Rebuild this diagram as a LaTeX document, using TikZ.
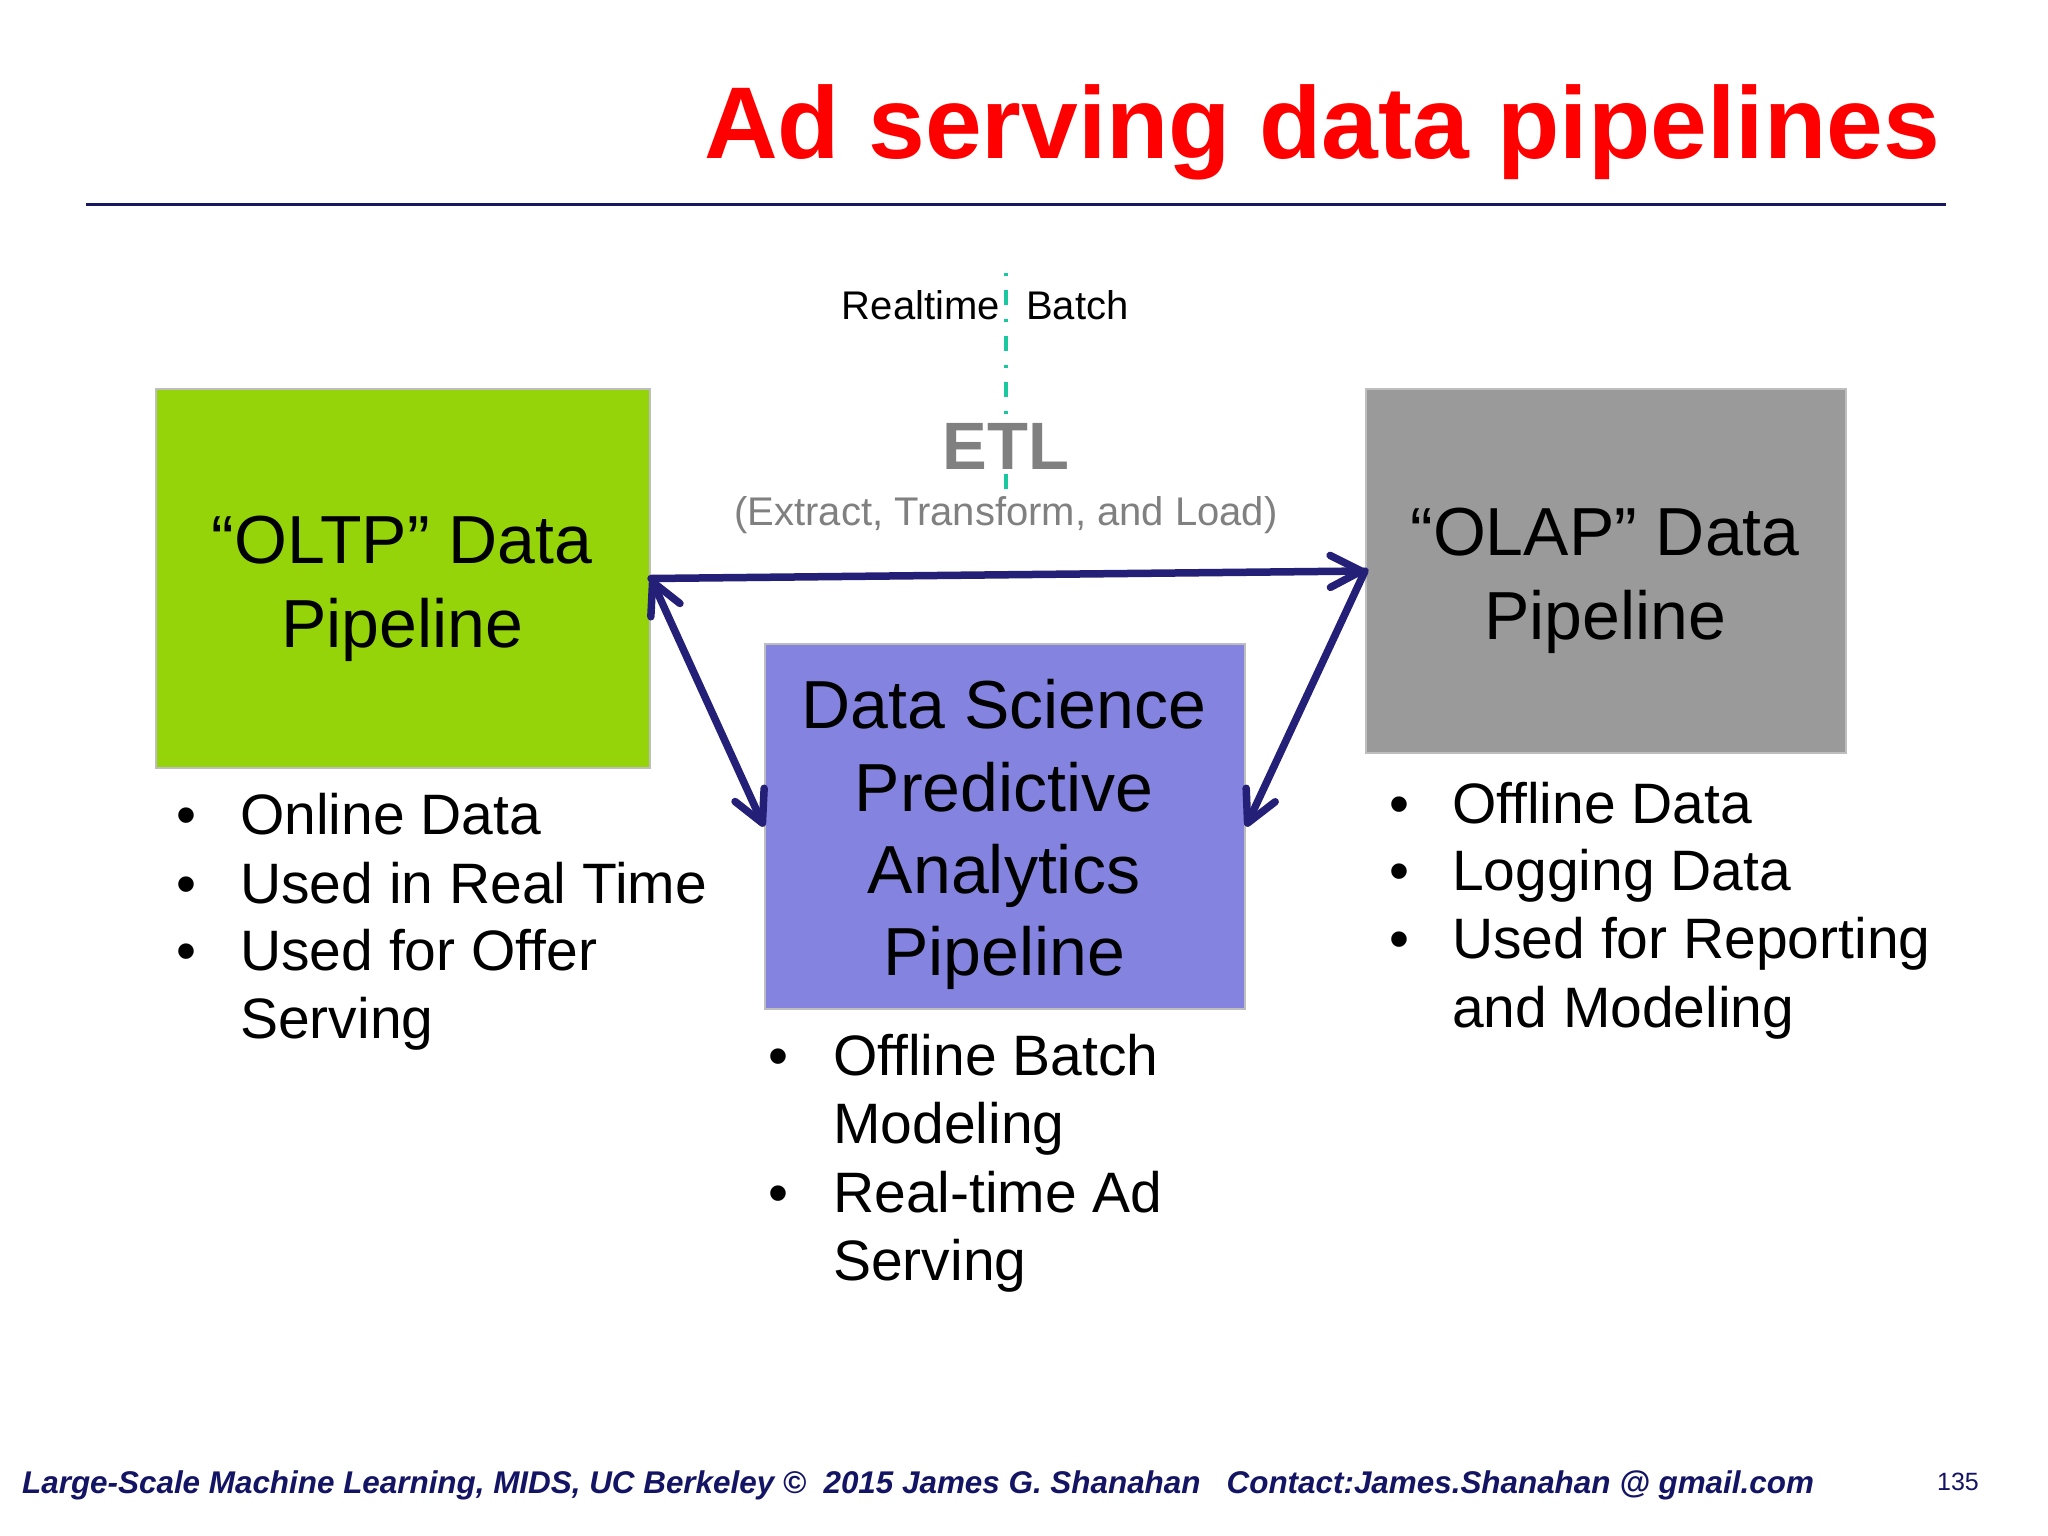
\documentclass[tikz,border=0pt]{standalone}
\usepackage{fontspec}
\setmainfont{Liberation Sans}
\usetikzlibrary{arrows.meta}
\definecolor{titlered}{RGB}{255,0,0}
\definecolor{rulenavy}{RGB}{24,24,96}
\definecolor{footnavy}{RGB}{20,20,100}
\definecolor{arrowblue}{RGB}{36,32,120}
\definecolor{oltpgreen}{RGB}{150,212,10}
\definecolor{olapgray}{RGB}{155,154,155}
\definecolor{dspurple}{RGB}{132,132,224}
\definecolor{divteal}{RGB}{26,200,160}
\definecolor{etlgray}{RGB}{128,128,128}
\definecolor{boxedge}{RGB}{190,190,190}
\tikzset{
  pbox/.style={draw=boxedge, line width=2pt, inner sep=0pt, anchor=north west},
  boxtext/.style={inner sep=0pt, anchor=base, font=\fontsize{68}{82}\selectfont},
  btext/.style={inner sep=0pt, anchor=base west, font=\fontsize{57}{68}\selectfont},
  myhead/.tip={Straight Barb[length=31pt,width=32pt,line cap=round,line join=round]},
  conn/.style={draw=arrowblue, line width=7.5pt, line cap=round, line join=round},
  divider/.style={draw=divteal, line width=3.5pt, dash pattern=on 3pt off 14pt on 15pt off 14pt},
}
\begin{document}
\begin{tikzpicture}[x=1pt,y=-1pt]
\useasboundingbox (0,0) rectangle (2048,1536);
\fill[white] (0,0) rectangle (2048,1536);

% title and rule
\node[anchor=base east, inner sep=0pt, text=titlered, font=\bfseries\fontsize{102}{110}\selectfont] (title) at (1940,159) {Ad serving data pipelines};
\coordinate (rl) at (86,204);
\coordinate (rr) at (1946,204);
\draw[rulenavy, line width=3pt] (rl) -- (rr);

% realtime / batch divider
\coordinate (divtop) at (1006,273);
\coordinate (divbot) at (1006,495);
\draw[divider] (divtop) -- (divbot);
\node[anchor=base east, inner sep=0pt, font=\fontsize{40}{48}\selectfont] (rt) at (1000,319) {Realtime};
\node[anchor=base west, inner sep=0pt, font=\fontsize{40}{48}\selectfont] (bt) at (1026,319) {Batch};

% ETL
\node[anchor=base, inner sep=0pt, text=etlgray, font=\bfseries\fontsize{67}{80}\selectfont] (etl) at (1006,469) {ETL};
\node[anchor=base, inner sep=0pt, text=etlgray, font=\fontsize{40}{48}\selectfont] (etlsub) at (1006,525) {(Extract, Transform, and Load)};

% boxes
\node[pbox, fill=oltpgreen, minimum width=494pt, minimum height=379pt] (oltp) at (155,388) {};
\node[pbox, fill=olapgray, minimum width=480pt, minimum height=364pt] (olap) at (1365,388) {};
\node[pbox, fill=dspurple, minimum width=480pt, minimum height=365pt] (ds) at (764,643) {};

\node[boxtext] (oltpa) at (402,563) {“OLTP” Data};
\node[boxtext] (oltpb) at (402,647) {Pipeline};
\node[boxtext] (olapa) at (1605,555) {“OLAP” Data};
\node[boxtext] (olapb) at (1605,639) {Pipeline};
\node[boxtext] (dsa) at (1004,728) {Data Science};
\node[boxtext] (dsb) at (1004,811) {Predictive};
\node[boxtext] (dsc) at (1004,893) {Analytics};
\node[boxtext] (dsd) at (1004,975) {Pipeline};

% connectors
\draw[conn, -myhead] (oltp.east) -- (olap.west);
\draw[conn, myhead-myhead] (oltp.east) -- (ds.west);
\draw[conn, -myhead] (olap.west) -- (ds.east);

% OLTP bullets
\node[btext] (b1) at (176,834) {•};
\node[btext] (b2) at (176,903) {•};
\node[btext] (b3) at (176,970) {•};
\node[btext] (t1) at (240,834) {Online Data};
\node[btext] (t2) at (240,903) {Used in Real Time};
\node[btext] (t3) at (240,970) {Used for Offer};
\node[btext] (t4) at (240,1038) {Serving};

% OLAP bullets
\node[btext] (c1) at (1389,823) {•};
\node[btext] (c2) at (1389,890) {•};
\node[btext] (c3) at (1389,958) {•};
\node[btext] (u1) at (1452,823) {Offline Data};
\node[btext] (u2) at (1452,890) {Logging Data};
\node[btext] (u3) at (1452,958) {Used for Reporting};
\node[btext] (u4) at (1452,1027) {and Modeling};

% DS bullets
\node[btext] (d1) at (768,1075) {•};
\node[btext] (d3) at (768,1212) {•};
\node[btext] (v1) at (833,1075) {Offline Batch};
\node[btext] (v2) at (833,1143) {Modeling};
\node[btext] (v3) at (833,1212) {Real-time Ad};
\node[btext] (v4) at (833,1280) {Serving};

% footer
\node[anchor=base west, inner sep=0pt, text=footnavy, font=\bfseries\itshape\fontsize{31.4}{36}\selectfont] (foot) at (22,1493) {Large-Scale Machine Learning, MIDS, UC Berkeley ©\ \ 2015 James G. Shanahan\ \ \ Contact:James.Shanahan @ gmail.com};
\node[anchor=base east, inner sep=0pt, text=footnavy, font=\fontsize{25}{30}\selectfont] (pg) at (1979,1490) {135};
\end{tikzpicture}
\end{document}
